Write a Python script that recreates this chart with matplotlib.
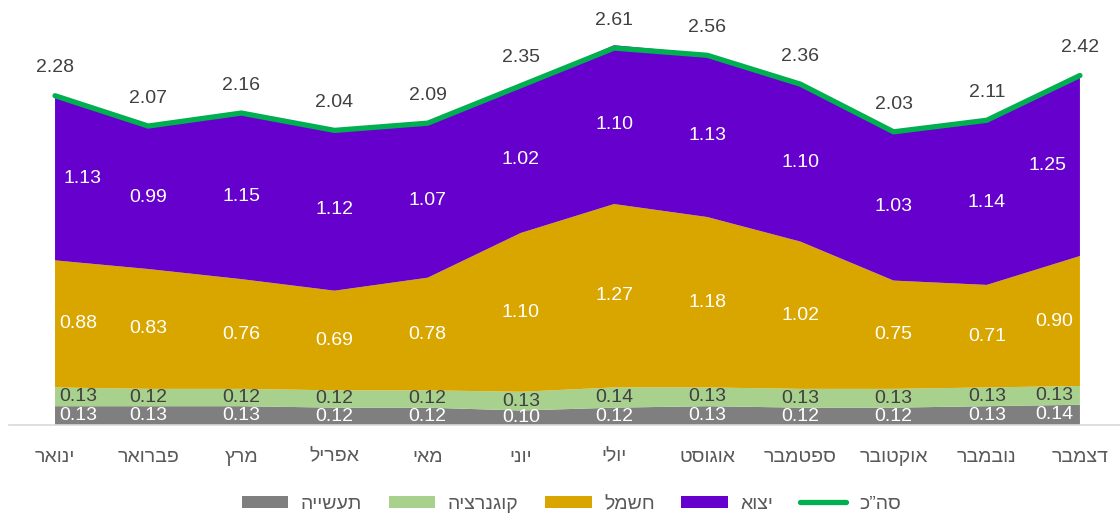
"""Stacked area chart: monthly breakdown with total line (Hebrew labels)."""
import matplotlib
matplotlib.use("Agg")
import matplotlib.pyplot as plt
import numpy as np
from matplotlib.patches import Patch
from matplotlib.lines import Line2D

plt.rcParams["font.family"] = ["Liberation Sans", "DejaVu Sans"]

MONTHS = ["ינואר", "פברואר", "מרץ", "אפריל", "מאי", "יוני",
          "יולי", "אוגוסט", "ספטמבר", "אוקטובר", "נובמבר", "דצמבר"]

INDUSTRY = [0.13, 0.13, 0.13, 0.12, 0.12, 0.10, 0.12, 0.13, 0.12, 0.12, 0.13, 0.14]
COGEN = [0.13, 0.12, 0.12, 0.12, 0.12, 0.13, 0.14, 0.13, 0.13, 0.13, 0.13, 0.13]
POWER = [0.88, 0.83, 0.76, 0.69, 0.78, 1.10, 1.27, 1.18, 1.02, 0.75, 0.71, 0.90]
EXPORT = [1.13, 0.99, 1.15, 1.12, 1.07, 1.02, 1.10, 1.13, 1.10, 1.03, 1.14, 1.25]
TOTAL = [2.28, 2.07, 2.16, 2.04, 2.09, 2.35, 2.61, 2.56, 2.36, 2.03, 2.11, 2.42]

SERIES_NAMES = ["תעשייה", "קוגנרציה", "חשמל", "יצוא"]
TOTAL_NAME = "סה”כ"

COLORS = ["#7f7f7f", "#a9d18e", "#d9a600", "#6600cc"]
LABEL_COLORS = ["white", "#404040", "white", "white"]
LINE_COLOR = "#00b050"
TEXT = "#404040"
AXIS_TEXT = "#595959"


def rtl(s):
    # matplotlib has no bidi support, flip Hebrew strings for display
    return s[::-1]


def main():
    fig = plt.figure(figsize=(11.2, 5.16), dpi=100)
    ax = fig.add_axes([9 / 1120, 0.1764, 1 - 9 / 1120, 0.8116])

    x = np.arange(len(MONTHS))
    layers = [INDUSTRY, COGEN, POWER, EXPORT]
    ax.stackplot(x, *layers, colors=COLORS, linewidth=0, zorder=2)
    ax.plot(x, TOTAL, color=LINE_COLOR, lw=3.8, solid_capstyle="round", zorder=4)

    # labels in the middle of each band
    bottoms = np.zeros(len(x))
    # edge shifts (points) so end labels sit inside the area
    first_shift = [16.5, 16.5, 16.5, 20]
    last_shift = [-18.7, -18.7, -18.7, -23]
    for i, vals in enumerate(layers):
        vals = np.array(vals)
        mids = bottoms + vals / 2
        for j, (v, m) in enumerate(zip(vals, mids)):
            dx = 0
            if j == 0:
                dx = first_shift[i]
            elif j == len(x) - 1:
                dx = last_shift[i]
            ax.annotate(f"{v:.2f}", (x[j], m), xytext=(dx, 0), textcoords="offset points",
                        ha="center", va="center", fontsize=14, color=LABEL_COLORS[i], zorder=5)
        bottoms += vals

    for j, v in enumerate(TOTAL):
        ax.annotate(f"{v:.2f}", (x[j], v), xytext=(0, 20), textcoords="offset points",
                    ha="center", va="center", fontsize=14, color=TEXT, zorder=5)

    ax.set_xlim(-0.494, 11.43)
    ax.set_ylim(0, 2.9)
    ax.set_xticks(x)
    ax.set_xticklabels([rtl(m) for m in MONTHS], fontsize=14, color=AXIS_TEXT)
    ax.set_yticks([])
    ax.tick_params(axis="x", length=0, pad=17)
    for side in ["top", "left", "right"]:
        ax.spines[side].set_visible(False)
    ax.spines["bottom"].set_color("#d9d9d9")
    ax.spines["bottom"].set_linewidth(1.2)
    ax.set_facecolor("none")

    handles = [Patch(facecolor=c, edgecolor="none") for c in COLORS]
    handles.append(Line2D([0], [0], color=LINE_COLOR, lw=3.8, solid_capstyle="round"))
    labels = [rtl(n) for n in SERIES_NAMES] + [rtl(TOTAL_NAME)]
    leg = fig.legend(handles, labels, loc="center", bbox_to_anchor=(0.51, 0.023), ncol=5,
                     frameon=False, fontsize=14, handlelength=2.4, handleheight=0.62,
                     handletextpad=0.65, columnspacing=1.35)
    for t in leg.get_texts():
        t.set_color(AXIS_TEXT)

    fig.savefig("out.png", dpi=100, facecolor="white")


if __name__ == "__main__":
    main()
